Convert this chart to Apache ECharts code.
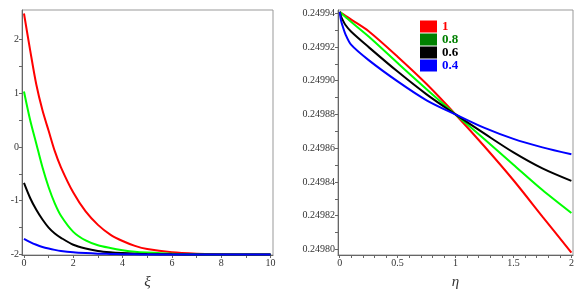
<!DOCTYPE html>
<html>
<head>
<meta charset="utf-8">
<script src="https://cdn.jsdelivr.net/npm/echarts@6/dist/echarts.min.js"></script>
<style>
  html, body { margin: 0; padding: 0; background: #fff; }
  #chart { width: 583px; height: 295px; }
</style>
</head>
<body>
<div id="chart"></div>
<script>
// left panel: xi axis
var xi = [0, 0.25, 0.5, 0.75, 1, 1.25, 1.5, 2, 2.5, 3, 3.5, 4, 4.5, 5, 6, 7, 8, 9, 10];
var leftRed = [2.48, 1.8, 1.16, 0.68, 0.3, -0.08, -0.38, -0.85, -1.2, -1.45, -1.63, -1.75, -1.84, -1.9, -1.96, -1.985, -1.995, -2, -2];
var leftGreen = [1.03, 0.5, 0.06, -0.38, -0.75, -1.05, -1.28, -1.58, -1.74, -1.83, -1.88, -1.92, -1.95, -1.965, -1.985, -1.995, -2, -2, -2];
var leftBlack = [-0.67, -0.95, -1.17, -1.35, -1.5, -1.61, -1.69, -1.82, -1.89, -1.935, -1.96, -1.975, -1.985, -1.992, -1.998, -2, -2, -2, -2];
var leftBlue = [-1.71, -1.77, -1.82, -1.86, -1.89, -1.915, -1.935, -1.96, -1.975, -1.985, -1.99, -1.995, -1.998, -2, -2, -2, -2, -2, -2];
var leftXLabels = [0, 2, 4, 6, 8, 10];
var leftXTicks = [0, 1, 2, 3, 4, 5, 6, 7, 8, 9, 10];
var leftYLabels = [-2, -1, 0, 1, 2];
var leftYTicks = [-2, -1.5, -1, -0.5, 0, 0.5, 1, 1.5, 2];

// right panel: eta axis
var eta = [0, 0.01, 0.02, 0.05, 0.1, 0.25, 0.5, 0.75, 1, 1.25, 1.5, 1.75, 2];
var rightRed = [0.2499408, 0.2499404, 0.2499399, 0.2499385, 0.2499362, 0.2499293, 0.2499142, 0.249898, 0.24988, 0.249861, 0.249841, 0.2498195, 0.2497981];
var rightGreen = [0.2499408, 0.2499402, 0.2499396, 0.2499378, 0.2499348, 0.2499262, 0.2499105, 0.249895, 0.24988, 0.2498653, 0.2498502, 0.2498352, 0.2498216];
var rightBlack = [0.2499408, 0.2499385, 0.2499368, 0.249933, 0.249929, 0.2499199, 0.2499054, 0.2498919, 0.24988, 0.2498686, 0.2498575, 0.249848, 0.2498406];
var rightBlue = [0.2499408, 0.2499362, 0.2499335, 0.2499275, 0.2499212, 0.2499122, 0.2498996, 0.2498884, 0.24988, 0.249872, 0.2498655, 0.2498605, 0.2498564];
var rightXLabels = [0, 0.5, 1, 1.5, 2];
var rightXTicks = [0, 0.1, 0.2, 0.3, 0.4, 0.5, 0.6, 0.7, 0.8, 0.9, 1, 1.1, 1.2, 1.3, 1.4, 1.5, 1.6, 1.7, 1.8, 1.9, 2];
var rightYLabels = [0.2498, 0.24982, 0.24984, 0.24986, 0.24988, 0.2499, 0.24992, 0.24994];
var rightYTicks = [0.2498, 0.24981, 0.24982, 0.24983, 0.24984, 0.24985, 0.24986, 0.24987, 0.24988, 0.24989, 0.2499, 0.24991, 0.24992, 0.24993, 0.24994];

var legendNames = ["1", "0.8", "0.6", "0.4"];
var lineColors = ["#ff0000", "#00ff00", "#000000", "#0000ff"];
var swatchColors = ["#ff0000", "#008000", "#000000", "#0000ff"];
var textColors = ["#ff0000", "#008000", "#000000", "#0000ff"];

function pairs(xs, ys) {
  return xs.map(function (x, i) { return [x, ys[i]]; });
}

var labelFont = { fontFamily: "Liberation Serif", fontSize: 10, color: "#333" };
var axisLine = { show: true, onZero: false, lineStyle: { color: "#666", width: 1 } };

function makeAxis(gridIndex, min, max, labels, ticks, extra) {
  var ax = {
    type: "value",
    gridIndex: gridIndex,
    min: min,
    max: max,
    axisLine: axisLine,
    axisTick: { show: true, length: 3, customValues: ticks, lineStyle: { color: "#666" } },
    axisLabel: Object.assign({ margin: 3, customValues: labels }, labelFont),
    splitLine: { show: false },
  };
  return Object.assign(ax, extra || {});
}

var chart = echarts.init(document.getElementById("chart"));

var leftSets = [leftRed, leftGreen, leftBlack, leftBlue];
var rightSets = [rightRed, rightGreen, rightBlack, rightBlue];
var series = [];
leftSets.forEach(function (d, i) {
  series.push({
    name: "left" + legendNames[i],
    type: "line",
    xAxisIndex: 0,
    yAxisIndex: 0,
    data: pairs(xi, d),
    smooth: 0.3,
    showSymbol: false,
    lineStyle: { color: lineColors[i], width: 2 },
    itemStyle: { color: lineColors[i] },
  });
});
rightSets.forEach(function (d, i) {
  series.push({
    name: legendNames[i],
    type: "line",
    xAxisIndex: 1,
    yAxisIndex: 1,
    data: pairs(eta, d),
    smooth: 0.3,
    showSymbol: false,
    lineStyle: { color: lineColors[i], width: 2 },
    itemStyle: { color: lineColors[i] },
  });
});

var option = {
  animation: false,
  backgroundColor: "#fff",
  grid: [
    { left: 22, top: 10, width: 251, height: 251, show: true, borderColor: "#999", borderWidth: 1 },
    { left: 338, top: 10, width: 235, height: 251, show: true, borderColor: "#999", borderWidth: 1 },
  ],
  legend: {
    orient: "vertical",
    left: 420,
    top: 20,
    padding: 0,
    itemWidth: 17,
    itemHeight: 12,
    itemGap: 0,
    icon: "rect",
    textStyle: { fontFamily: "Liberation Serif", fontSize: 13, fontWeight: "bold" },
    data: legendNames.map(function (n, i) {
      return {
        name: n,
        itemStyle: { color: swatchColors[i] },
        textStyle: { color: textColors[i] },
      };
    }),
  },
  xAxis: [
    makeAxis(0, -0.08, 10.1, leftXLabels, leftXTicks, {
      name: "ξ",
      nameLocation: "middle",
      nameGap: 20,
      nameTextStyle: { fontFamily: "Liberation Serif", fontStyle: "italic", fontSize: 15, color: "#333" },
    }),
    makeAxis(1, -0.0147, 2.014, rightXLabels, rightXTicks, {
      name: "η",
      nameLocation: "middle",
      nameGap: 20,
      nameTextStyle: { fontFamily: "Liberation Serif", fontStyle: "italic", fontSize: 15, color: "#333" },
    }),
  ],
  yAxis: [
    makeAxis(0, -2.01, 2.545, leftYLabels, leftYTicks),
    makeAxis(1, 0.2497967, 0.2499419, rightYLabels, rightYTicks, {
      axisLabel: Object.assign({
        margin: 3,
        customValues: rightYLabels,
        formatter: function (v) { return v.toFixed(5); },
      }, labelFont),
    }),
  ],
  series: series,
};

chart.setOption(option);
</script>
</body>
</html>
